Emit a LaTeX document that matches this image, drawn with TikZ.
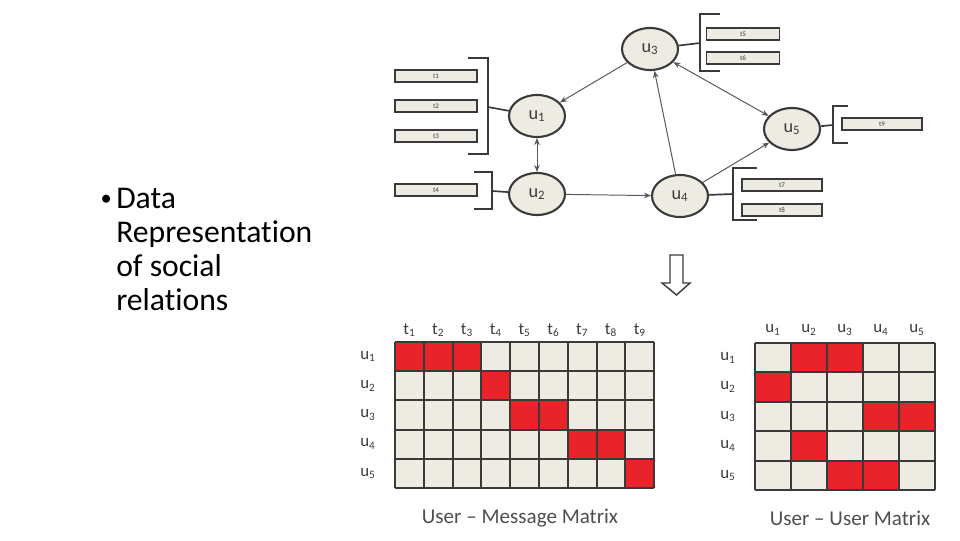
\documentclass[tikz,border=0pt]{standalone}
\usepackage{fontspec}
\setmainfont{Carlito}[Ligatures={NoCommon}]
\usetikzlibrary{shapes.geometric,arrows.meta}
\definecolor{paper}{HTML}{EEEBE2}
\definecolor{hot}{HTML}{E8232A}
\definecolor{ink}{HTML}{3A3A3A}
\newcommand{\lbsub}[2]{#1\textsubscript{#2}}
\tikzset{us/.style = {ellipse, line width=1.5pt, draw=ink, fill=paper, minimum width=1.4cm, minimum height=1.05cm, inner sep=0pt, font=\fontsize{13}{13}\selectfont, text=ink},
         tb/.style = {rectangle, line width=1.2pt, draw=ink, fill=paper, minimum width=2.05cm, minimum height=0.3cm, inner sep=0pt, font=\fontsize{5}{5}\selectfont, text=ink},
         br/.style = {line width=1.2pt, draw=ink},
         ed/.style = {line width=0.7pt, draw=ink!85},
         lb/.style = {font=\fontsize{12}{12}\selectfont, text=ink, inner sep=0pt},
         cp/.style = {font=\fontsize{15}{15}\selectfont, text=ink!90, inner sep=0pt},
         tx/.style = {font=\fontsize{22.5}{24}\selectfont, text=black, inner sep=0pt, anchor=base west},
         cl/.style = {fill=paper},
         rc/.style = {fill=hot},
         gl/.style = {line width=1.3pt, draw=ink}}

\begin{document}
\begin{tikzpicture}[x=0.025cm, y=-0.025cm, >={Stealth[length=5pt,width=4pt]}]
    \useasboundingbox (0,0) rectangle (960,540);
    % bullet text
    \node[tx, anchor=base east, font=\fontsize{16}{16}\selectfont] (bul) at (112,205) {•};
    \node[tx] (l1) at (116,208) {Data};
    \node[tx] (l2) at (116,242) {Representation};
    \node[tx] (l3) at (116,276) {of social};
    \node[tx] (l4) at (116,310) {relations};
    % users
    \node[us] (u3) at (650,49)  {\lbsub{u}{3}};
    \node[us] (u1) at (537,116) {\lbsub{u}{1}};
    \node[us] (u2) at (537,194) {\lbsub{u}{2}};
    \node[us] (u4) at (680,196) {\lbsub{u}{4}};
    \node[us] (u5) at (792,129) {\lbsub{u}{5}};
    % messages
    \node[tb] (t1) at (436,76)  {t1};
    \node[tb] (t2) at (436,106) {t2};
    \node[tb] (t3) at (436,136) {t3};
    \node[tb] (t4) at (436,190) {t4};
    \node[tb, minimum width=1.83cm] (t5) at (743,34) {t5};
    \node[tb, minimum width=1.83cm] (t6) at (743,58) {t6};
    \node[tb, minimum width=2.0cm] (t7) at (782,185) {t7};
    \node[tb, minimum width=2.0cm] (t8) at (782,210) {t8};
    \node[tb, minimum width=2.0cm] (t9) at (882,124) {t9};
    % brackets
    \coordinate (b1) at (488,107); \coordinate (b2) at (492,191);
    \coordinate (b3) at (700,43);  \coordinate (b4) at (833,125);
    \coordinate (b5) at (733,194);
    \draw[br] (468,58) -- (488,58) -- (488,154) -- (468,154);
    \draw[br] (474,172) -- (492,172) -- (492,209) -- (474,209);
    \draw[br] (720,14) -- (700,14) -- (700,71) -- (720,71);
    \draw[br] (848,106) -- (833,106) -- (833,143) -- (848,143);
    \draw[br] (757,168) -- (733,168) -- (733,220) -- (757,220);
    \draw[br] (b1) -- (u1);
    \draw[br] (b2) -- (u2);
    \draw[br] (u3) -- (b3);
    \draw[br] (u5) -- (b4);
    \draw[br] (u4) -- (b5);
    % relations
    \draw[ed, ->] (u3) -- (u1);
    \draw[ed, <->] (u1) -- (u2);
    \draw[ed, ->] (u2) -- (u4);
    \draw[ed, ->] (u4) -- (u3);
    \draw[ed, <->] (u3) -- (u5);
    \draw[ed, ->] (u4) -- (u5);
    % down arrow
    \draw[line width=1pt, draw=ink, fill=white] (670,255) -- (683,255) -- (683,283) -- (690,283) -- (676.5,295) -- (662,283) -- (670,283) -- cycle;
    % user - message matrix
    \foreach \i in {1,...,9} {
      \node[lb] (mt\i) at ({395+28.8*\i-14.4},330) {\lbsub{t}{\i}};
      \foreach \j in {1,...,5}
        \fill[cl] ({395+28.8*(\i-1)},{342+29.2*(\j-1)}) rectangle ++(28.8,29.2);
    }
    \foreach \i/\j in {1/1,2/1,3/1,4/2,5/3,6/3,7/4,8/4,9/5}
      \fill[rc] ({395+28.8*(\i-1)},{342+29.2*(\j-1)}) rectangle ++(28.8,29.2);
    \foreach \i in {0,...,9}
      \draw[gl] ({395+28.8*\i},342) -- ({395+28.8*\i},488);
    \foreach \j in {0,...,5}
      \draw[gl] (395,{342+29.2*\j}) -- (654.2,{342+29.2*\j});
    \foreach \j in {1,...,5}
      \node[lb] (mu\j) at (368,{342+29.2*\j-14.6}) {\lbsub{u}{\j}};
    \node[cp] (cap1) at (520,518) {User – Message Matrix};
    % user - user matrix
    \foreach \i in {1,...,5} {
      \node[lb] (nu\i) at ({755+36*\i-18},330) {\lbsub{u}{\i}};
      \node[lb] (ru\i) at (728,{343+29.4*\i-14.7}) {\lbsub{u}{\i}};
      \foreach \j in {1,...,5}
        \fill[cl] ({755+36*(\i-1)},{343+29.4*(\j-1)}) rectangle ++(36,29.4);
    }
    \foreach \i/\j in {2/1,3/1,1/2,4/3,5/3,2/4,3/5,4/5}
      \fill[rc] ({755+36*(\i-1)},{343+29.4*(\j-1)}) rectangle ++(36,29.4);
    \foreach \i in {0,...,5}
      \draw[gl] ({755+36*\i},343) -- ({755+36*\i},490);
    \foreach \j in {0,...,5}
      \draw[gl] (755,{343+29.4*\j}) -- (935,{343+29.4*\j});
    \node[cp] (cap2) at (850,518) {User – User Matrix};
\end{tikzpicture}
\end{document}
